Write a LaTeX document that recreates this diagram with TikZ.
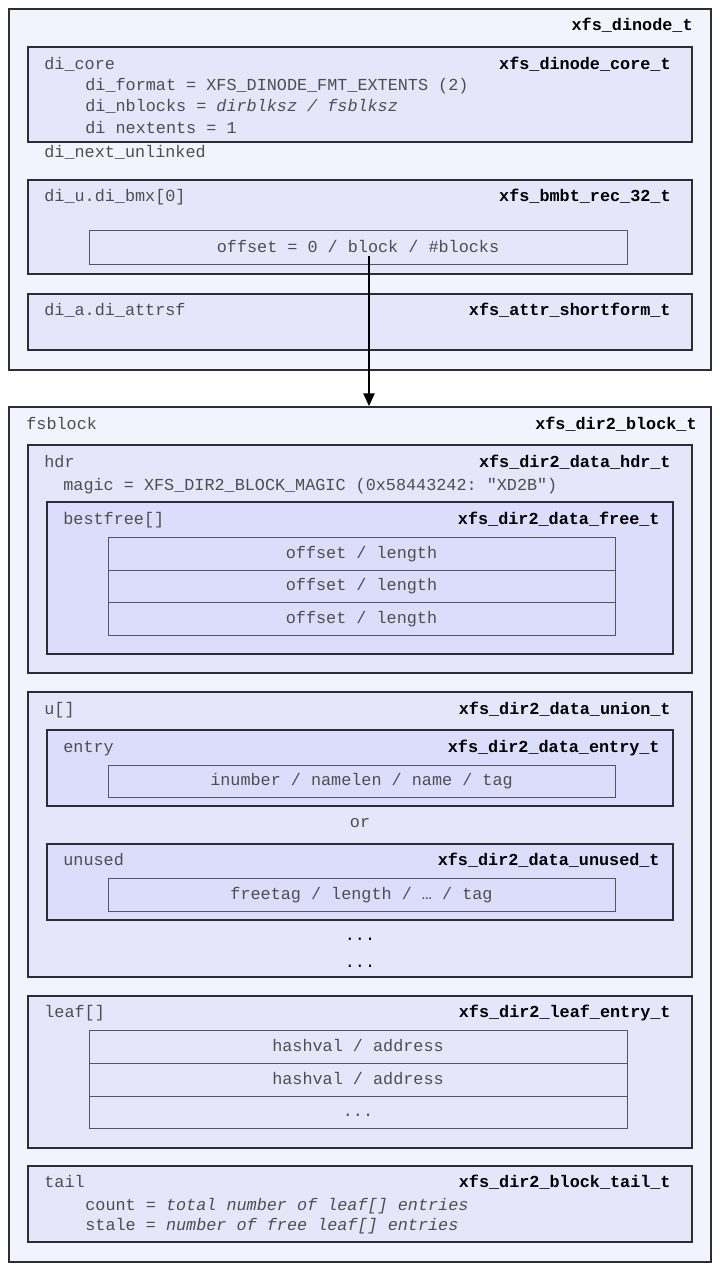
\documentclass[tikz,border=0pt]{standalone}
\usepackage{fontspec}
\setmonofont{Liberation Mono}
\usepackage{xcolor}
\usetikzlibrary{arrows.meta,fit}
\definecolor{fillA}{RGB}{243,243,253}
\definecolor{fillB}{RGB}{230,230,250}
\definecolor{fillC}{RGB}{220,220,251}
\definecolor{frameline}{RGB}{45,45,50}
\definecolor{rowline}{RGB}{85,85,95}
\definecolor{txtgray}{RGB}{78,78,78}
\newcommand{\codesize}{\fontsize{8.4}{10}\selectfont}

\begin{document}
\begin{tikzpicture}[
  x=0.5pt,y=-0.5pt,
  font=\ttfamily\codesize,
  frameA/.style={draw=frameline,line width=0.75pt,fill=fillA,inner sep=0pt},
  frameB/.style={draw=frameline,line width=0.75pt,fill=fillB,inner sep=0pt},
  frameC/.style={draw=frameline,line width=0.75pt,fill=fillC,inner sep=0pt},
  rowB/.style={draw=rowline,line width=0.5pt,fill=fillB,inner sep=0pt},
  rowC/.style={draw=rowline,line width=0.5pt,fill=fillC,inner sep=0pt},
  lbl/.style={anchor=west,inner sep=0pt,text=txtgray,text height=6.5pt,text depth=2pt},
  mid/.style={lbl,anchor=center},
  typ/.style={anchor=east,inner sep=0pt,font=\ttfamily\bfseries\codesize,text=black,text height=6.5pt,text depth=2pt},
  arr/.style={-{Triangle[length=6.5pt,width=5.5pt]},line width=1.25pt,draw=black}
]
\useasboundingbox (0,0) rectangle (725,1273);

% inode
\node[frameA,fit={(9,9) (711,370)}] (dinode) {};
\node[typ] (dinodet) at (693,26) {xfs\_dinode\_t};

\node[frameB,fit={(28,47) (692,142)}] (core) {};
\node[lbl] (corel) at (44,65) {di\_core};
\node[typ] (coret) at (671,65) {xfs\_dinode\_core\_t};
\node[lbl] (fmt) at (85,86) {di\_format = XFS\_DINODE\_FMT\_EXTENTS (2)};
\node[lbl] (nblk) at (85,107) {di\_nblocks = \textit{dirblksz / fsblksz}};
\node[lbl] (next) at (85,129) {di nextents = 1};
\node[lbl] (unl) at (44,153) {di\_next\_unlinked};

\node[frameB,fit={(28,180) (692,274)}] (bmx) {};
\node[lbl] (bmxl) at (44,197) {di\_u.di\_bmx[0]};
\node[typ] (bmxt) at (671,197) {xfs\_bmbt\_rec\_32\_t};
\node[rowB,fit={(89,231) (627,264)}] (rec) {};
\node[mid] (rect) at (rec) {offset = 0 / block / \#blocks};

\node[frameB,fit={(28,294) (692,350)}] (attr) {};
\node[lbl] (attrl) at (44,311) {di\_a.di\_attrsf};
\node[typ] (attrt) at (671,311) {xfs\_attr\_shortform\_t};

% directory block
\node[frameA,fit={(9,407) (711,1262)}] (blk) {};
\node[lbl] (blkl) at (26,425) {fsblock};
\node[typ] (blkt) at (697,425) {xfs\_dir2\_block\_t};

\node[frameB,fit={(28,445) (692,673)}] (hdr) {};
\node[lbl] (hdrl) at (44,463) {hdr};
\node[typ] (hdrt) at (671,463) {xfs\_dir2\_data\_hdr\_t};
\node[lbl] (magic) at (63,486) {magic = XFS\_DIR2\_BLOCK\_MAGIC (0x58443242: "XD2B")};

\node[frameC,fit={(47,502) (673,654)}] (best) {};
\node[lbl] (bestl) at (63,520) {bestfree[]};
\node[typ] (bestt) at (660,520) {xfs\_dir2\_data\_free\_t};
\node[rowC,fit={(108,537) (615,570)}] (bf1) {};
\node[rowC,fit={(108,570) (615,602)}] (bf2) {};
\node[rowC,fit={(108,602) (615,635)}] (bf3) {};
\foreach \r in {bf1,bf2,bf3}
  \node[mid] (\r t) at (\r) {offset / length};

\node[frameB,fit={(28,692) (692,977)}] (uni) {};
\node[lbl] (unil) at (44,710) {u[]};
\node[typ] (unit) at (671,710) {xfs\_dir2\_data\_union\_t};

\node[frameC,fit={(47,730) (673,806)}] (ent) {};
\node[lbl] (entl) at (63,748) {entry};
\node[typ] (entt) at (660,748) {xfs\_dir2\_data\_entry\_t};
\node[rowC,fit={(108,765) (615,797)}] (entr) {};
\node[mid] (entrt) at (entr) {inumber / namelen / name / tag};

\node[mid] (or) at (360,823) {or};

\node[frameC,fit={(47,844) (673,920)}] (unu) {};
\node[lbl] (unul) at (63,861) {unused};
\node[typ] (unut) at (660,861) {xfs\_dir2\_data\_unused\_t};
\node[rowC,fit={(108,878) (615,911)}] (unur) {};
\node[mid] (unurt) at (unur) {freetag / length / … / tag};

\node[mid,text=black] (dots1) at (360,936) {...};
\node[mid,text=black] (dots2) at (360,963) {...};

\node[frameB,fit={(28,996) (692,1148)}] (leaf) {};
\node[lbl] (leafl) at (44,1013) {leaf[]};
\node[typ] (leaft) at (671,1013) {xfs\_dir2\_leaf\_entry\_t};
\node[rowB,fit={(89,1030) (627,1063)}] (lf1) {};
\node[rowB,fit={(89,1063) (627,1096)}] (lf2) {};
\node[rowB,fit={(89,1096) (627,1128)}] (lf3) {};
\node[mid] (lf1t) at (lf1) {hashval / address};
\node[mid] (lf2t) at (lf2) {hashval / address};
\node[mid] (lf3t) at (lf3) {...};

\node[frameB,fit={(28,1166) (692,1242)}] (tail) {};
\node[lbl] (taill) at (44,1183) {tail};
\node[typ] (tailt) at (671,1183) {xfs\_dir2\_block\_tail\_t};
\node[lbl] (cnt) at (85,1206) {count = \textit{total number of leaf[] entries}};
\node[lbl] (stl) at (85,1226) {stale = \textit{number of free leaf[] entries}};

% extent pointer
\coordinate (ptr) at (369,256);
\draw[arr] (ptr) -- (ptr |- blk.north);
\end{tikzpicture}
\end{document}
